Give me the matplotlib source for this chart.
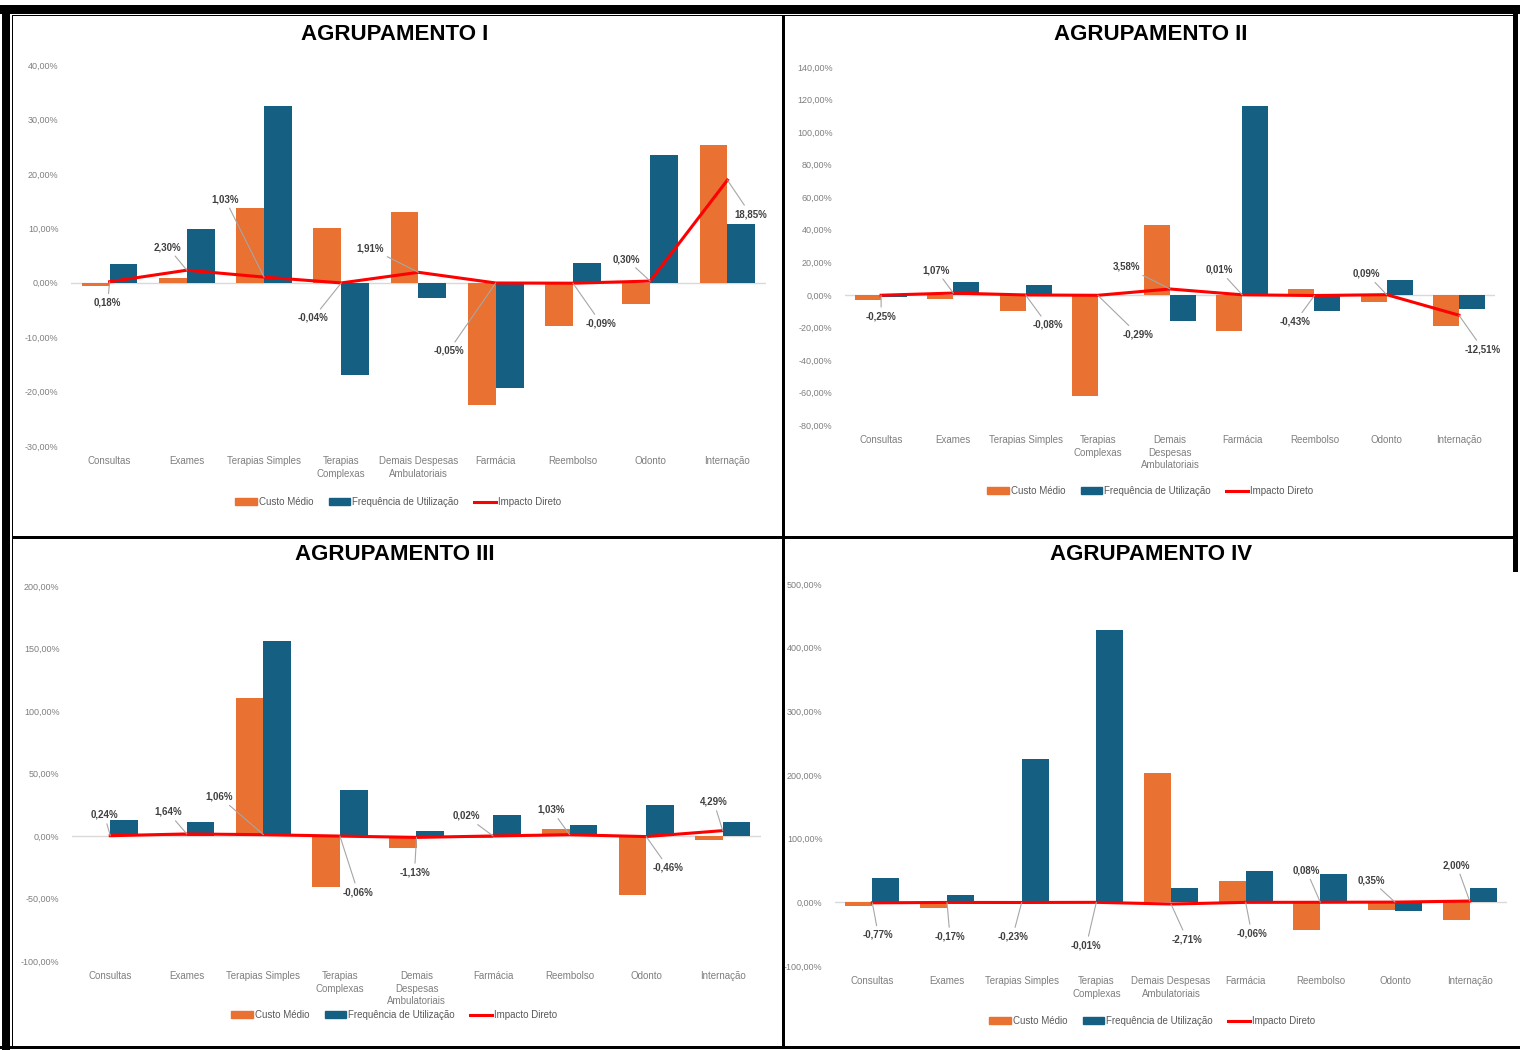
import matplotlib.pyplot as plt
from matplotlib.patches import Rectangle, Patch
from matplotlib.lines import Line2D
from matplotlib.ticker import FuncFormatter, MultipleLocator
import numpy as np

plt.rcParams['font.family'] = ['Liberation Sans Narrow', 'Liberation Sans', 'DejaVu Sans']

# categorias (rótulos do eixo x)
categorias_a = ['Consultas', 'Exames', 'Terapias Simples', 'Terapias\nComplexas',
                'Demais Despesas\nAmbulatoriais', 'Farmácia', 'Reembolso', 'Odonto', 'Internação']
categorias_b = ['Consultas', 'Exames', 'Terapias Simples', 'Terapias\nComplexas',
                'Demais\nDespesas\nAmbulatoriais', 'Farmácia', 'Reembolso', 'Odonto', 'Internação']

# Agrupamento I
custo_1 = [-0.6, 0.8, 13.8, 10.1, 13.0, -22.4, -7.9, -3.9, 25.3]
freq_1 = [3.5, 9.9, 32.5, -16.9, -2.8, -19.3, 3.7, 23.5, 10.8]
impacto_1 = [0.18, 2.30, 1.03, -0.04, 1.91, -0.05, -0.09, 0.30, 18.85]

# Agrupamento II
custo_2 = [-3.0, -2.5, -9.8, -62.0, 43.0, -22.0, 3.7, -4.5, -19.0]
freq_2 = [-1.5, 8.0, 6.3, 0.0, -16.0, 116.0, -9.8, 9.3, -8.5]
impacto_2 = [-0.25, 1.07, -0.08, -0.29, 3.58, 0.01, -0.43, 0.09, -12.51]

# Agrupamento III
custo_3 = [0.3, 0.5, 110.4, -40.8, -9.6, -1.5, 5.6, -47.0, -3.0]
freq_3 = [12.8, 11.0, 156.0, 37.0, 4.0, 16.8, 8.8, 24.8, 11.0]
impacto_3 = [0.24, 1.64, 1.06, -0.06, -1.13, 0.02, 1.03, -0.46, 4.29]

# Agrupamento IV
custo_4 = [-6.0, -9.0, -1.5, 0.0, 203.0, 33.0, -44.0, -12.6, -28.0]
freq_4 = [39.0, 11.0, 225.0, 428.0, 22.0, 50.0, 45.0, -14.0, 23.0]
impacto_4 = [-0.77, -0.17, -0.23, -0.01, -2.71, -0.06, 0.08, 0.35, 2.00]

# deslocamento dos rótulos (pixels), só layout
desl_1 = [(-2, -21), (-19, 23), (-39, 78), (-28, -35), (-48, 24), (-47, -68), (28, -40), (-24, 22), (23, -34)]
desl_2 = [(0, -21), (-17, 23), (22, -30), (40, -39), (-44, 22), (-23, 25), (-19, -26), (-20, 21), (24, -34)]
desl_3 = [(-6, 21), (-19, 22), (-44, 38), (18, -56), (-2, -35), (-27, 20), (-18, 25), (22, -31), (-9, 29)]
desl_4 = [(6, -32), (3, -34), (-9, -34), (-10, -43), (16, -35), (6, -31), (-14, 32), (-24, 22), (-13, 36)]

LARANJA = '#E97132'
AZUL = '#156082'
VERMELHO = '#FF0000'
W, H = 1523, 1050

fig = plt.figure(figsize=(W / 100, H / 100), dpi=100)


def fr(x0, y0, x1, y1):
    # caixa em pixels (origem em cima à esquerda) -> fração da figura
    return [x0 / W, 1 - y1 / H, (x1 - x0) / W, (y1 - y0) / H]


def caixa(x0, y0, x1, y1):
    l, b, w, h = fr(x0, y0, x1, y1)
    fig.add_artist(Rectangle((l, b), w, h, transform=fig.transFigure,
                             facecolor='black', edgecolor='none', zorder=10))


fmt_eixo = FuncFormatter(lambda v, p: f'{v:.2f}'.replace('.', ',') + '%')

paineis = [
    ('AGRUPAMENTO I', categorias_a, custo_1, freq_1, impacto_1, desl_1,
     (71, 65, 766, 446), (-30, 40, 10), (395, 34), (398, 502)),
    ('AGRUPAMENTO II', categorias_b, custo_2, freq_2, impacto_2, desl_2,
     (845, 67, 1495, 425), (-80, 140, 20), (1151, 34), (1150, 491)),
    ('AGRUPAMENTO III', categorias_b, custo_3, freq_3, impacto_3, desl_3,
     (72, 586, 761, 961), (-100, 200, 50), (395, 554), (394, 1015)),
    ('AGRUPAMENTO IV', categorias_a, custo_4, freq_4, impacto_4, desl_4,
     (835, 584, 1507, 966), (-100, 500, 100), (1151, 554), (1152, 1021)),
]

for titulo, cats, custo, freq, impacto, desl, box, lim, tpos, lpos in paineis:
    ax = fig.add_axes(fr(*box))
    x = np.arange(len(cats))
    bw = 0.36
    ax.bar(x - bw / 2, custo, bw, color=LARANJA, zorder=2)
    ax.bar(x + bw / 2, freq, bw, color=AZUL, zorder=2)
    ax.axhline(0, color='#d9d9d9', lw=1, zorder=1)
    ax.plot(x, impacto, color=VERMELHO, lw=2.2, zorder=4, solid_joinstyle='round')
    for xi, v, (dx, dy) in zip(x, impacto, desl):
        ax.annotate(f'{v:.2f}%'.replace('.', ','), (xi, v), xytext=(dx, dy),
                    textcoords='offset pixels', ha='center', va='center',
                    fontsize=7, fontweight='bold', color='#404040', zorder=5,
                    arrowprops=dict(arrowstyle='-', color='#a6a6a6', lw=0.8,
                                    shrinkA=1, shrinkB=0))
    ax.set_xlim(-0.5, len(cats) - 0.5)
    ax.set_ylim(lim[0], lim[1])
    ax.yaxis.set_major_locator(MultipleLocator(lim[2]))
    ax.yaxis.set_major_formatter(fmt_eixo)
    ax.set_xticks(x)
    ax.set_xticklabels(cats, fontsize=7, color='#7f7f7f', linespacing=1.35)
    ax.tick_params(axis='y', labelsize=6.5, labelcolor='#7f7f7f', length=0, pad=9)
    ax.tick_params(axis='x', length=0, pad=7)
    for s in ax.spines.values():
        s.set_visible(False)
    fig.text(tpos[0] / W, 1 - tpos[1] / H, titulo, ha='center', va='center',
             fontsize=16, fontweight='bold', family=['Liberation Sans', 'DejaVu Sans'])
    handles = [Patch(color=LARANJA), Patch(color=AZUL), Line2D([], [], color=VERMELHO, lw=2.2)]
    ax.legend(handles, ['Custo Médio', 'Frequência de Utilização', 'Impacto Direto'],
              loc='center', bbox_to_anchor=(lpos[0] / W, 1 - lpos[1] / H),
              bbox_transform=fig.transFigure, ncol=3, frameon=False,
              fontsize=7, labelcolor='#595959', handlelength=2.2, handleheight=0.6,
              handletextpad=0.2, columnspacing=1.6)

# molduras pretas
caixa(0, 5, 1520, 14)
caixa(2, 5, 10, 1050)
caixa(12, 15, 13, 1047)
caixa(12, 15, 1515, 16)
caixa(782, 15, 785, 1047)
caixa(12, 536, 1515, 539)
caixa(1513, 5, 1518, 572)
caixa(0, 1046, 1520, 1049)

fig.savefig('out.png', dpi=100, facecolor='white')
